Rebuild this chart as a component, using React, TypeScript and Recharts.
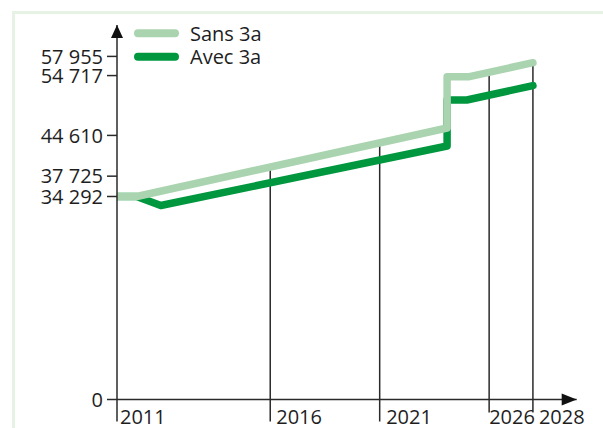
import {
  LineChart,
  Line,
  XAxis,
  YAxis,
  ReferenceLine,
  ReferenceDot,
  Legend,
} from "recharts";

const SERIES_NAMES = ["Sans 3a", "Avec 3a"];

const SANS_YEARS = [2009, 2009.9, 2024.08, 2024.08, 2025.05, 2028];
const SANS_VALUES = [34292, 34292, 45860, 54500, 54500, 56890];

const AVEC_YEARS = [2009, 2009.9, 2011, 2024.08, 2024.08, 2024.98, 2028];
const AVEC_VALUES = [34292, 34292, 32770, 42820, 50590, 50590, 53030];

const Y_TICKS = [0, 34292, 37725, 44610, 54717, 57955];
const X_TICKS = [2009, 2016, 2021, 2026, 2028];
const X_LABELS = ["2011", "2016", "2021", "2026", "2028"];
const DROP_YEARS = [2016, 2021, 2026, 2028];

const LIGHT = "#aad4af";
const DARK = "#00973f";
const INK = "#2a2a2a";
const FONT = "'Open Sans', sans-serif";

type Pt = { year: number; value: number };

const sans: Pt[] = SANS_YEARS.map((year, i) => ({ year, value: SANS_VALUES[i] }));
const avec: Pt[] = AVEC_YEARS.map((year, i) => ({ year, value: AVEC_VALUES[i] }));

// value of a series at a given year, for the drop lines under the upper curve
function valueAt(pts: Pt[], year: number) {
  for (let i = 0; i < pts.length - 1; i++) {
    const a = pts[i];
    const b = pts[i + 1];
    if (b.year === a.year) continue;
    if (year >= a.year && year <= b.year) {
      return a.value + ((year - a.year) / (b.year - a.year)) * (b.value - a.value);
    }
  }
  return pts[pts.length - 1].value;
}

const fmt = (v: number) => String(v).replace(/\B(?=(\d{3})+(?!\d))/g, " ");

const LABEL_DX = [3, 6, 6.5, 0, 6];
const TICK_LEN = [22, 22, 22, 13, 13];

function YearTick(props: any) {
  const { x, y, payload } = props;
  const i = X_TICKS.indexOf(payload.value);
  return (
    <g>
      <line x1={x} x2={x} y1={y} y2={y + TICK_LEN[i]} stroke={INK} strokeWidth={1.5} />
      <text x={x + LABEL_DX[i]} y={y + 24} fontSize={20} fontFamily={FONT} fill="#1e1e1e">
        {X_LABELS[i]}
      </text>
    </g>
  );
}

function UpArrow(props: any) {
  const { cx, cy } = props;
  return <path d={`M${cx},${cy} L${cx + 6},${cy + 13} L${cx - 6},${cy + 13} Z`} fill="#111" />;
}

function RightArrow(props: any) {
  const { cx, cy } = props;
  return <path d={`M${cx},${cy} L${cx - 15},${cy - 6} L${cx - 15},${cy + 6} Z`} fill="#111" />;
}

function LegendBox(props: any) {
  const entries = [...(props.payload || [])].reverse();
  return (
    <svg width={160} height={60} style={{ display: "block" }}>
      {entries.map((e: any, i: number) => (
        <g key={e.value}>
          <line
            x1={8}
            x2={45}
            y1={18.3 + i * 23.4}
            y2={18.3 + i * 23.4}
            stroke={e.color}
            strokeWidth={8}
            strokeLinecap="round"
          />
          <text x={60} y={26 + i * 23.4} fontSize={20} fontFamily={FONT} fill="#1e1e1e">
            {e.value}
          </text>
        </g>
      ))}
    </svg>
  );
}

export default function App() {
  return (
    <div style={{ position: "absolute", left: 0, top: 0, width: 603, height: 428, overflow: "hidden", background: "#fff" }}>
      <div
        style={{
          position: "absolute",
          left: 12,
          top: 10.5,
          width: 700,
          height: 500,
          borderTop: "3px solid #e6f2e4",
          borderLeft: "3px solid #e6f2e4",
        }}
      />
      <div style={{ position: "absolute", left: 0, top: 0 }}>
        <LineChart
          width={603}
          height={428}
          margin={{ top: 25, right: 26.3, left: 0, bottom: 0 }}
          style={{ fontFamily: FONT }}
        >
          <XAxis
            type="number"
            dataKey="year"
            domain={[2009, 2030]}
            ticks={X_TICKS}
            interval={0}
            height={28.5}
            tickSize={0}
            tickMargin={0}
            tickLine={false}
            tick={<YearTick />}
            axisLine={{ stroke: INK, strokeWidth: 1.5 }}
            allowDataOverflow
          />
          <YAxis
            type="number"
            domain={[0, 63260]}
            ticks={Y_TICKS}
            interval={0}
            width={117}
            tickSize={10}
            tickMargin={4}
            tickFormatter={fmt}
            tick={{ fill: "#1e1e1e", fontSize: 20, fontFamily: FONT }}
            tickLine={{ stroke: INK, strokeWidth: 1.5 }}
            axisLine={{ stroke: INK, strokeWidth: 1.5 }}
            allowDataOverflow
          />
          {DROP_YEARS.map((yr) => (
            <ReferenceLine
              key={yr}
              segment={[
                { x: yr, y: 0 },
                { x: yr, y: valueAt(sans, yr) },
              ]}
              stroke={INK}
              strokeWidth={1.5}
            />
          ))}
          <Line
            data={avec}
            dataKey="value"
            name={SERIES_NAMES[1]}
            type="linear"
            stroke={DARK}
            strokeWidth={7.5}
            strokeLinecap="round"
            strokeLinejoin="round"
            dot={false}
            isAnimationActive={false}
          />
          <Line
            data={sans}
            dataKey="value"
            name={SERIES_NAMES[0]}
            type="linear"
            stroke={LIGHT}
            strokeWidth={7.5}
            strokeLinecap="round"
            strokeLinejoin="round"
            dot={false}
            isAnimationActive={false}
          />
          <ReferenceDot x={2009} y={63260} r={0} ifOverflow="visible" shape={<UpArrow />} />
          <ReferenceDot x={2030} y={0} r={0} ifOverflow="visible" shape={<RightArrow />} />
          <Legend
            layout="vertical"
            align="center"
            verticalAlign="middle"
            wrapperStyle={{ left: 130, top: 15, width: 160, height: 60 }}
            content={<LegendBox />}
          />
        </LineChart>
      </div>
    </div>
  );
}
